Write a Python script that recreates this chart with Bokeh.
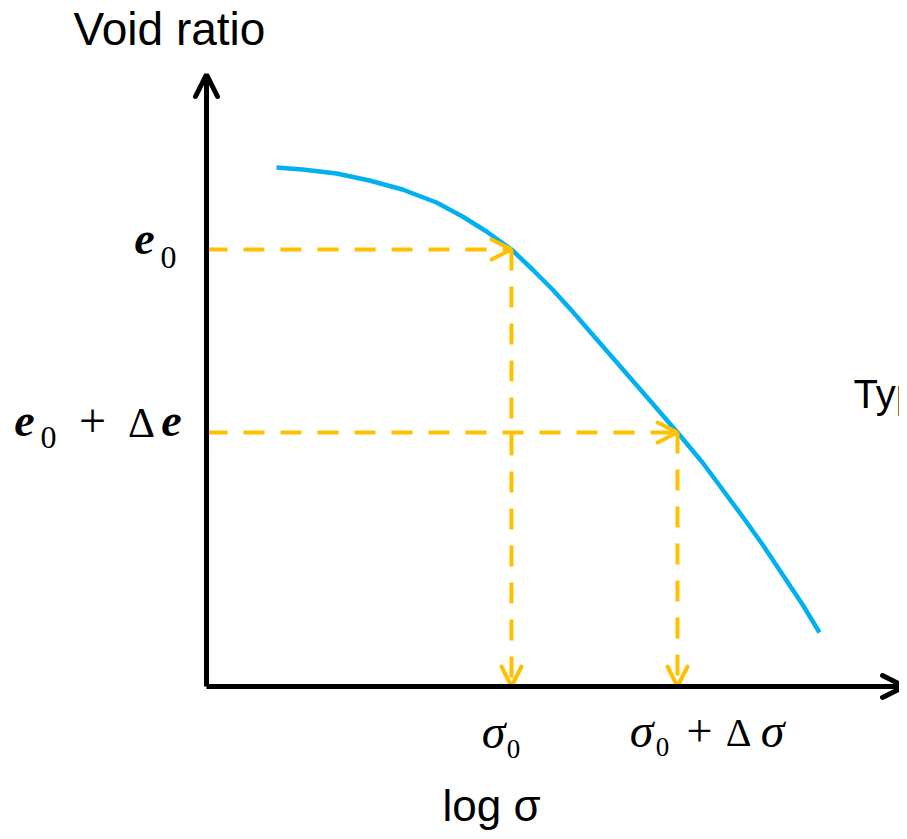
from bokeh.plotting import figure
from bokeh.models import Range1d, Arrow, OpenHead, ColumnDataSource
from bokeh.core.properties import value
from bokeh.embed import file_html
from bokeh.resources import INLINE

# ---- data (diagram units: x = log sigma, y = void ratio) ----
curve_x = [70, 96, 130, 163, 196, 230, 256, 280, 305, 326, 346, 366, 386, 406,
           426, 446, 471, 496, 516, 536, 556, 576, 596, 613]
curve_y = [519, 517, 513, 506, 497, 484, 470, 455, 437, 417, 397, 375, 352, 329,
           306, 283, 254, 224, 197, 170, 142, 112, 82, 54]
sigma_pts = [305, 471]          # sigma0, sigma0 + dsigma
e_pts = [437, 254]              # e0, e0 + de
x_axis_end = 698
y_axis_end = 612
y_title = "Void ratio"
x_title = "log σ"
side_text = "Typical"

BLUE = "#00B0F0"
YELLOW = "#FFC000"
SANS = "Liberation Sans"
SERIF = "Liberation Serif"

p = figure(width=899, height=831, output_backend="svg", toolbar_location=None,
           x_range=Range1d(-206, 693), y_range=Range1d(-145, 686),
           x_axis_location=None, y_axis_location=None,
           min_border=0, min_border_left=0, min_border_right=0,
           min_border_top=0, min_border_bottom=0)
p.grid.visible = False
p.outline_line_color = None
p.background_fill_color = "white"
p.border_fill_color = "white"

# curve
p.line(curve_x, curve_y, line_color=BLUE, line_width=4.5, line_join="round")

# dashed guides with arrow heads
src = ColumnDataSource(dict(
    x0=[0, sigma_pts[0], 0, sigma_pts[1]],
    y0=[e_pts[0], e_pts[0], e_pts[1], e_pts[1]],
    x1=[sigma_pts[0], sigma_pts[0], sigma_pts[1], sigma_pts[1]],
    y1=[e_pts[0], 0, e_pts[1], 0],
))
p.add_layout(Arrow(source=src, x_start="x0", y_start="y0", x_end="x1", y_end="y1",
                   line_color=YELLOW, line_width=4, line_dash="21 16",
                   end=OpenHead(size=20, line_color=YELLOW, line_width=4, line_cap="round")))

# axes with arrows
ax = ColumnDataSource(dict(x0=[0, 0], y0=[0, 0], x1=[0, x_axis_end], y1=[y_axis_end, 0]))
p.add_layout(Arrow(source=ax, x_start="x0", y_start="y0", x_end="x1", y_end="y1",
                   line_color="black", line_width=5,
                   end=OpenHead(size=22, line_color="black", line_width=5, line_cap="round")))

MID = "middle"

# titles
p.text(x=[-37], y=[658], text=[y_title], text_font=value(SANS), text_font_size="46px",
       text_align="center", text_baseline=MID, text_color="black")
p.text(x=[285], y=[-119], text=[x_title], text_font=value(SANS), text_font_size="44px",
       text_align="center", text_baseline=MID, text_color="black")
p.text(x=[647], y=[293], text=[side_text], text_font=value(SANS), text_font_size="40px",
       text_align="left", text_baseline=MID, text_color="black")

# math labels on y axis
e0, e1 = e_pts
p.text(x=[-62, -182, -35], y=[e0 + 11, e1 + 12, e1 + 12], text=["e", "e", "e"],
       text_font=value(SERIF), text_font_style="bold italic", text_font_size="46px",
       text_align="center", text_baseline=MID, text_color="black")
p.text(x=[-38, -158], y=[e0 - 8, e1 - 5], text=["0", "0"],
       text_font=value(SERIF), text_font_size="32px",
       text_align="center", text_baseline=MID, text_color="black")
p.text(x=[-114], y=[e1 + 12], text=["+"], text_font=value(SERIF), text_font_size="48px",
       text_align="center", text_baseline=MID, text_color="black")
p.text(x=[-65], y=[e1 + 10], text=["Δ"], text_font=value(SERIF), text_font_size="42px",
       text_align="center", text_baseline=MID, text_color="black")

# math labels on x axis
s0, s1 = sigma_pts
p.text(x=[s0 - 18, s1 - 36, s1 + 95], y=[-45, -44, -44], text=["σ", "σ", "σ"],
       text_font=value(SERIF), text_font_style="italic", text_font_size="48px",
       text_align="center", text_baseline=MID, text_color="black")
p.text(x=[s0 + 2, s1 - 15], y=[-62, -60], text=["0", "0"],
       text_font=value(SERIF), text_font_size="27px",
       text_align="center", text_baseline=MID, text_color="black")
p.text(x=[s1 + 22], y=[-44], text=["+"], text_font=value(SERIF), text_font_size="46px",
       text_align="center", text_baseline=MID, text_color="black")
p.text(x=[s1 + 61], y=[-46], text=["Δ"], text_font=value(SERIF), text_font_size="40px",
       text_align="center", text_baseline=MID, text_color="black")

open("out.html", "w").write(file_html(p, INLINE))
